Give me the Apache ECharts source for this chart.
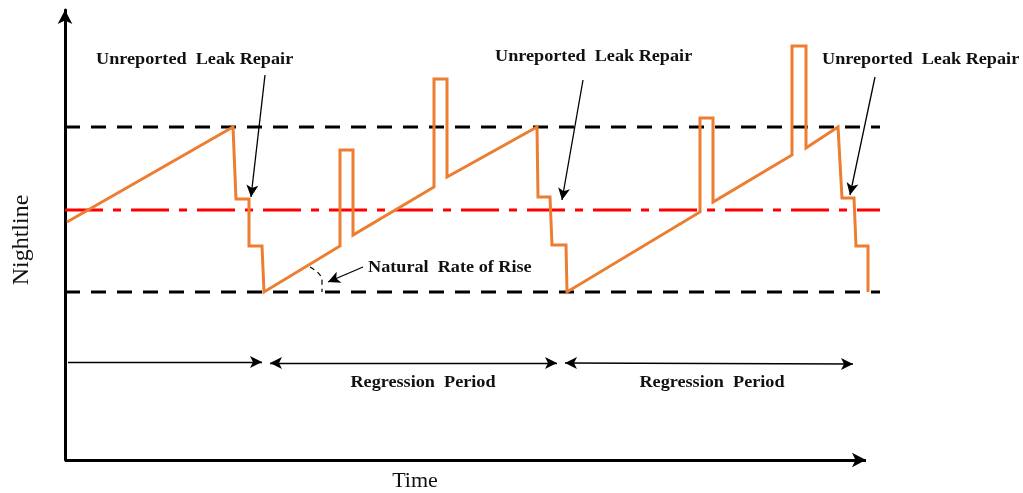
<!DOCTYPE html>
<html>
<head>
<meta charset="utf-8">
<script src="https://cdn.jsdelivr.net/npm/echarts@6/dist/echarts.min.js"></script>
<style>html,body{margin:0;padding:0;background:#fff}#c{width:1023px;height:493px}</style>
</head>
<body>
<div id="c"></div>
<script>
// Schematic nightline flow (x = time units, y = flow units)
const nightline = [
  [2,238],[168,333],[171,261],[184,261],[184,214],[197,214],[199,168],
  [275,214],[275,310],[288,310],[288,225],[369,273],[369,381],[382,381],[382,283],
  [472,333],[473,263],[485,263],[487,215],[501,215],[502,168],
  [635,248],[635,342],[648,342],[648,258],[727,305],[727,414],[741,414],[741,312],
  [773,333],[777,262],[789,262],[791,214],[803,214],[803,168]
];
const upperLevel = [[0,333],[815,333]];
const lowerLevel = [[0,168],[815,168]];
const meanLevel = [[0,250],[815,250]];
const rateArc = [[245,193],[251,189],[255,185],[257,179],[257,168]];
const timeAxis = [[0,0],[801,0]];
// annotation arrows: [from, to, bothEnds]
const repairArrows = [
  [[200,385],[186,263]],
  [[518,380],[497,260]],
  [[810,383],[785,265]]
];
const rateArrow = [[298,193],[263,178]];
const periodArrows = [
  [[3,98],[197,98],false],
  [[205,97],[492,97],true],
  [[500,97],[788,96],true]
];
const labels = {
  repair: 'Unreported  Leak Repair',
  rate: 'Natural  Rate of Rise',
  period: 'Regression  Period',
  xName: 'Time',
  yName: 'Nightline'
};

const chart = echarts.init(document.getElementById('c'), null, {renderer:'canvas'});
const arrowLines = [];
repairArrows.forEach(a => arrowLines.push([{coord:a[0], symbol:'none'},{coord:a[1], symbol:'arrow'}]));
arrowLines.push([{coord:rateArrow[0], symbol:'none'},{coord:rateArrow[1], symbol:'arrow'}]);
periodArrows.forEach(a => arrowLines.push([{coord:a[0], symbol:a[2]?'arrow':'none'},{coord:a[1], symbol:'arrow'}]));

const serif = '"Liberation Serif", "Times New Roman", serif';
function txt(x, y, text, font, align, extra) {
  return Object.assign({type:'text', x:x, y:y, silent:true,
    style:{text:text, font:font, fill:'#111', textAlign:align, textVerticalAlign:'middle'}}, extra||{});
}
chart.setOption({
  animation: false,
  grid: {left:65, right:143, top:10, bottom:33},
  xAxis: {type:'value', min:0, max:815, axisLabel:{show:false}, axisTick:{show:false}, splitLine:{show:false},
    axisLine:{show:false}},
  yAxis: {type:'value', min:0, max:450, axisLabel:{show:false}, axisTick:{show:false}, splitLine:{show:false},
    axisLine:{show:true, onZero:false, symbol:['none','arrow'], symbolSize:[11,14], lineStyle:{color:'#000', width:3}}},
  series: [
    {type:'line', data:upperLevel, symbol:'none', silent:true, lineStyle:{color:'#000', width:3, type:[15,11]}},
    {type:'line', data:lowerLevel, symbol:'none', silent:true, lineStyle:{color:'#000', width:3, type:[15,11]}},
    {type:'line', data:meanLevel, symbol:'none', silent:true, lineStyle:{color:'#FF0000', width:3, type:[38,10,8,10]}},
    {type:'line', data:nightline, symbol:'none', silent:true, lineStyle:{color:'#ED7D31', width:3, join:'miter'}},
    {type:'line', data:rateArc, symbol:'none', silent:true, smooth:0.4, lineStyle:{color:'#000', width:1.2, type:[5,4]}},
    {type:'line', data:[], symbol:'none', silent:true,
      markLine:{silent:true, symbolSize:[9,12], label:{show:false}, lineStyle:{color:'#000', width:1.3, type:'solid'},
        emphasis:{disabled:true}, data:arrowLines}},
    {type:'line', data:[], symbol:'none', silent:true,
      markLine:{silent:true, symbolSize:[11,14], label:{show:false}, lineStyle:{color:'#000', width:3, type:'solid'},
        emphasis:{disabled:true},
        data:[[{coord:timeAxis[0], symbol:'none'},{coord:timeAxis[1], symbol:'arrow'}]]}}
  ],
  graphic: [
    txt(96, 60, labels.repair, 'bold 17px '+serif, 'left', {scaleX:1.07}),
    txt(495, 57, labels.repair, 'bold 17px '+serif, 'left', {scaleX:1.07}),
    txt(822, 60, labels.repair, 'bold 17px '+serif, 'left', {scaleX:1.07}),
    txt(368, 268, labels.rate, 'bold 17px '+serif, 'left', {scaleX:1.07}),
    txt(423, 383, labels.period, 'bold 17px '+serif, 'center', {scaleX:1.07}),
    txt(712, 383, labels.period, 'bold 17px '+serif, 'center', {scaleX:1.07}),
    txt(415, 481, labels.xName, '22px '+serif, 'center'),
    txt(22, 240, labels.yName, '24px '+serif, 'center', {rotation:Math.PI/2})
  ]
});
</script>
</body>
</html>
